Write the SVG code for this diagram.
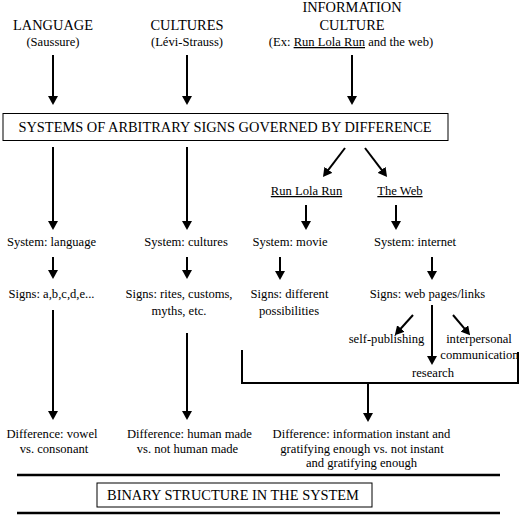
<svg xmlns="http://www.w3.org/2000/svg" width="527" height="515" viewBox="0 0 527 515">
<style>
text{font-family:"Liberation Serif","Times New Roman",serif;fill:#000;text-anchor:middle;font-size:12.6px}
.h{font-size:14.4px}
.b{font-size:14.4px}
.c{stroke:#000;stroke-width:2;fill:none}
.box{fill:#fff;stroke:#000;stroke-width:1}
.u{text-decoration:underline}
</style>
<defs>
<marker id="ah" viewBox="0 0 9 10" refX="2" refY="5" markerWidth="9" markerHeight="10" markerUnits="userSpaceOnUse" orient="auto">
<path d="M0,0 L9,5 L0,10 z" fill="#000"/>
</marker>
</defs>
<rect width="527" height="515" fill="#fff"/>
<g id="connectors">
<line class="c" x1="53" y1="55" x2="53" y2="98" marker-end="url(#ah)"/>
<line class="c" x1="187" y1="55" x2="187" y2="98" marker-end="url(#ah)"/>
<line class="c" x1="352" y1="55" x2="352" y2="98" marker-end="url(#ah)"/>
<line class="c" x1="53" y1="147" x2="53" y2="223" marker-end="url(#ah)"/>
<line class="c" x1="187" y1="147" x2="187" y2="223" marker-end="url(#ah)"/>
<line class="c" x1="345" y1="148" x2="327.2" y2="171.4" marker-end="url(#ah)"/>
<line class="c" x1="365" y1="148" x2="382.8" y2="171.4" marker-end="url(#ah)"/>
<line class="c" x1="306" y1="205" x2="306" y2="223" marker-end="url(#ah)"/>
<line class="c" x1="396" y1="205" x2="396" y2="223" marker-end="url(#ah)"/>
<line class="c" x1="53" y1="257" x2="53" y2="272" marker-end="url(#ah)"/>
<line class="c" x1="187" y1="257" x2="187" y2="272" marker-end="url(#ah)"/>
<line class="c" x1="280" y1="257" x2="280" y2="273" marker-end="url(#ah)"/>
<line class="c" x1="432" y1="257" x2="432" y2="273" marker-end="url(#ah)"/>
<line class="c" x1="413" y1="315" x2="399.5" y2="330" marker-end="url(#ah)"/>
<line class="c" x1="453" y1="315" x2="465.6" y2="329.9" marker-end="url(#ah)"/>
<line class="c" x1="432" y1="305" x2="432" y2="358" marker-end="url(#ah)"/>
<line class="c" x1="53" y1="310" x2="53" y2="413" marker-end="url(#ah)"/>
<line class="c" x1="187" y1="333" x2="187" y2="413" marker-end="url(#ah)"/>
<path class="c" d="M242,350 V383 H518 V352"/>
<line class="c" x1="368" y1="383" x2="368" y2="415" marker-end="url(#ah)"/>
<line x1="17" y1="475" x2="500" y2="475" stroke="#000" stroke-width="2.5"/>
<line x1="17" y1="513" x2="500" y2="513" stroke="#000" stroke-width="2.5"/>
</g>
<g id="language">
<text class="h" x="53" y="30">LANGUAGE</text>
<text x="53" y="46">(Saussure)</text>
</g>
<g id="cultures">
<text class="h" x="187" y="30">CULTURES</text>
<text x="187" y="46">(Lévi-Strauss)</text>
</g>
<g id="information-culture">
<text class="h" x="352" y="12">INFORMATION</text>
<text class="h" x="352" y="30">CULTURE</text>
<text x="351" y="46">(Ex:  <tspan class="u">Run Lola Run</tspan> and the web)</text>
</g>
<g id="systems">
<rect class="box" x="3" y="113.5" width="445" height="27"/>
<text class="b" x="225" y="132">SYSTEMS OF ARBITRARY SIGNS GOVERNED BY DIFFERENCE</text>
</g>
<g id="run-lola-run"><text class="u" x="306.5" y="195">Run Lola Run</text></g>
<g id="the-web"><text class="u" x="400" y="195">The Web</text></g>
<g id="system-language"><text x="51.5" y="246">System: language</text></g>
<g id="system-cultures"><text x="186" y="246">System: cultures</text></g>
<g id="system-movie"><text x="290" y="246">System: movie</text></g>
<g id="system-internet"><text x="415" y="246">System: internet</text></g>
<g id="signs-language"><text x="51.5" y="298">Signs: a,b,c,d,e...</text></g>
<g id="signs-cultures"><text x="179" y="298">Signs: rites, customs,</text><text x="179" y="315">myths, etc.</text></g>
<g id="signs-movie"><text x="289.5" y="298">Signs: different</text><text x="289" y="315">possibilities</text></g>
<g id="signs-web"><text x="427.5" y="298">Signs: web pages/links</text></g>
<g id="self-publishing"><text x="386.5" y="343">self-publishing</text></g>
<g id="interpersonal"><text x="479" y="343">interpersonal</text><text x="479.5" y="359">communication</text></g>
<g id="research"><text x="433" y="377">research</text></g>
<g id="diff-language"><text x="52" y="438">Difference: vowel</text><text x="54" y="453">vs. consonant</text></g>
<g id="diff-cultures"><text x="189.5" y="438">Difference: human made</text><text x="187.5" y="453">vs. not human made</text></g>
<g id="diff-info"><text x="361.5" y="438">Difference: information instant and</text><text x="362" y="452.5">gratifying enough vs. not instant</text><text x="361.5" y="467">and gratifying enough</text></g>
<g id="binary">
<rect class="box" x="97" y="483" width="275" height="24"/>
<text class="b" x="233" y="500">BINARY STRUCTURE IN THE SYSTEM</text>
</g>
</svg>
